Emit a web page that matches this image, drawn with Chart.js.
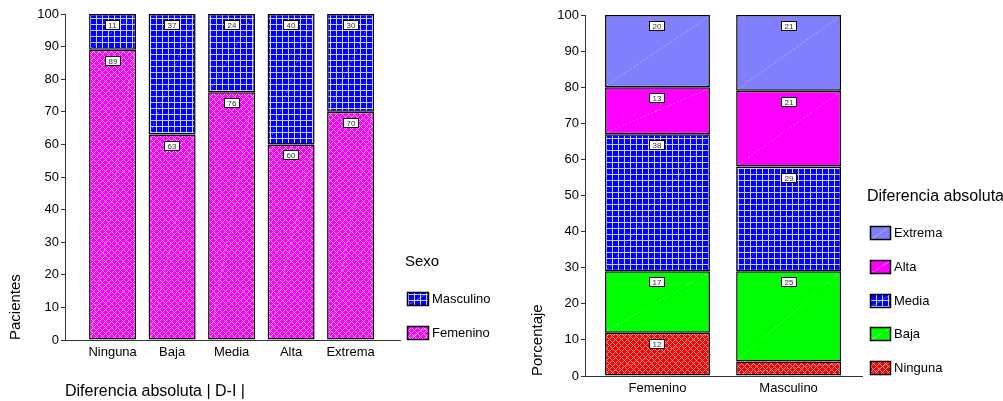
<!DOCTYPE html>
<html>
<head>
<meta charset="utf-8">
<script src="https://cdn.jsdelivr.net/npm/chart.js@4/dist/chart.umd.min.js"></script>
<style>
  html, body { margin: 0; padding: 0; background: #fff; }
  #wrap { position: relative; width: 1003px; height: 401px; overflow: hidden; }
  .pane { position: absolute; top: 0; height: 401px; }
  #paneLeft { left: 0; width: 510px; }
  #paneRight { left: 510px; width: 493px; }
  canvas { display: block; }
</style>
</head>
<body>
<div id="wrap">
  <div class="pane" id="paneLeft"><canvas id="chartSexo" width="510" height="401"></canvas></div>
  <div class="pane" id="paneRight"><canvas id="chartDif" width="493" height="401"></canvas></div>
</div>
<script>
// Grades of absolute difference |D-I|
const gradeLabels = ['Ninguna', 'Baja', 'Media', 'Alta', 'Extrema'];
// Patients (%) by sex within each grade
const femeninoPatients = [89, 63, 76, 60, 70];
const masculinoPatients = [11, 37, 24, 40, 30];

// Sex categories and the grade breakdown (%) inside each sex
const sexLabels = ['Femenino', 'Masculino'];
const ningunaPct = [12, 4];
const bajaPct = [17, 25];
const mediaPct = [38, 29];
const altaPct = [13, 21];
const extremaPct = [20, 21];

const FONT = '"Liberation Sans", Arial, Helvetica, sans-serif';

// Fill patterns
function diamondPattern(bg, fg) {
  const s = 6, c = document.createElement('canvas');
  c.width = s; c.height = s;
  const g = c.getContext('2d');
  g.fillStyle = bg; g.fillRect(0, 0, s, s);
  g.fillStyle = fg;
  for (let y = 0; y < s; y++) {
    for (let x = 0; x < s; x++) {
      if ((x + y) % s === 0 || (x - y + s) % s === 0) g.fillRect(x, y, 1, 1);
    }
  }
  return g.createPattern(c, 'repeat');
}
function gridPattern(bg, fg) {
  const s = 6, c = document.createElement('canvas');
  c.width = s; c.height = s;
  const g = c.getContext('2d');
  g.fillStyle = bg; g.fillRect(0, 0, s, s);
  g.fillStyle = fg;
  g.fillRect(0, 0, s, 1);
  g.fillRect(0, 0, 1, s);
  return g.createPattern(c, 'repeat');
}

const pinkCheck = diamondPattern('#ff00ff', '#ffa8ff');
const redCheck = diamondPattern('#ff0000', '#ffa0a0');
const blueGrid = gridPattern('#0000ff', '#d0d0ff');

const toPoints = arr => arr.map((v, i) => ({ x: i, y: v }));

// Faint diagonal streak across each segment
const diagonalStreaks = {
  id: 'diagonalStreaks',
  afterDatasetsDraw(chart) {
    const ctx = chart.ctx;
    ctx.save();
    ctx.strokeStyle = 'rgba(255,255,255,0.45)';
    ctx.lineWidth = 0.8;
    ctx.setLineDash([2, 2]);
    chart.data.datasets.forEach((ds, di) => {
      chart.getDatasetMeta(di).data.forEach(bar => {
        const p = bar.getProps(['x', 'y', 'base', 'width'], true);
        ctx.beginPath();
        ctx.moveTo(p.x - p.width / 2 + 2, p.base - 2);
        ctx.lineTo(p.x + p.width / 2 - 2, p.y + 2);
        ctx.stroke();
      });
    });
    ctx.restore();
  }
};

// Boxed value labels near the top of each segment
const segmentLabels = {
  id: 'segmentLabels',
  afterDatasetsDraw(chart) {
    const ctx = chart.ctx;
    ctx.save();
    ctx.font = '8px ' + FONT;
    ctx.textAlign = 'center';
    ctx.textBaseline = 'middle';
    chart.data.datasets.forEach((ds, di) => {
      chart.getDatasetMeta(di).data.forEach((bar, j) => {
        const v = ds.data[j].y;
        if (v < 5) return;
        const text = String(Math.round(v));
        const p = bar.getProps(['x', 'y'], true);
        const cy = Math.round(p.y + 11);
        const w = Math.round(ctx.measureText(text).width) + 7;
        const h = 10;
        const left = Math.round(p.x - w / 2);
        const top = cy - h / 2;
        ctx.fillStyle = '#fff';
        ctx.fillRect(left, top, w, h);
        ctx.strokeStyle = '#000';
        ctx.lineWidth = 1;
        ctx.strokeRect(left + 0.5, top + 0.5, w - 1, h - 1);
        ctx.fillStyle = '#333';
        ctx.fillText(text, left + w / 2, cy + 0.5);
      });
    });
    ctx.restore();
  }
};

// Side legend with title, entries listed top-down in reverse stacking order
function sideLegend(cfg) {
  return {
    id: 'sideLegend',
    afterDraw(chart) {
      const ctx = chart.ctx;
      const area = chart.chartArea;
      ctx.save();
      ctx.fillStyle = '#000';
      ctx.textBaseline = 'middle';
      ctx.textAlign = 'left';
      ctx.font = cfg.titleSize + 'px ' + FONT;
      ctx.fillText(cfg.title, area.right + cfg.titleDx, area.bottom - cfg.titleDy);
      ctx.font = '13px ' + FONT;
      const boxLeft = Math.round(area.right + cfg.boxDx);
      chart.data.datasets.forEach((ds, di) => {
        const top = Math.round(area.bottom - cfg.firstDy - di * cfg.step);
        ctx.fillStyle = ds.backgroundColor;
        ctx.fillRect(boxLeft, top, cfg.boxW, cfg.boxH);
        ctx.save();
        ctx.strokeStyle = 'rgba(255,255,255,0.45)';
        ctx.lineWidth = 0.8;
        ctx.beginPath();
        ctx.moveTo(boxLeft + 1, top + cfg.boxH - 1);
        ctx.lineTo(boxLeft + cfg.boxW - 1, top + 1);
        ctx.stroke();
        ctx.restore();
        ctx.strokeStyle = '#000';
        ctx.lineWidth = 1.5;
        ctx.strokeRect(boxLeft + 0.5, top + 0.5, cfg.boxW - 1, cfg.boxH - 1);
        ctx.fillStyle = '#000';
        ctx.fillText(ds.label, boxLeft + cfg.boxW + 3, top + cfg.boxH / 2 + 0.5);
      });
      ctx.restore();
    }
  };
}

function yAxis(title, width, titlePad) {
  return {
    stacked: true,
    min: 0,
    max: 100,
    afterFit: s => { s.width = width; },
    ticks: { stepSize: 10, color: '#000', padding: 2, font: { family: FONT, size: 13 } },
    grid: { drawOnChartArea: false, drawTicks: true, tickLength: 4, color: '#333' },
    border: { display: true, color: '#333', width: 1 },
    title: {
      display: true, text: title, align: 'start', color: '#000',
      font: { family: FONT, size: 15 }, padding: { top: titlePad, bottom: 0 }
    }
  };
}

function xAxis(labels, min, max, height, title) {
  const axis = {
    type: 'linear',
    stacked: true,
    offset: false,
    min: min,
    max: max,
    bounds: 'data',
    afterBuildTicks: s => { s.ticks = labels.map((_, i) => ({ value: i })); },
    afterFit: s => { s.height = height; },
    grid: { display: false, drawTicks: false, offset: false },
    border: { display: true, color: '#333', width: 1 },
    ticks: {
      autoSkip: false, maxRotation: 0, padding: 5, color: '#000',
      font: { family: FONT, size: 13 },
      callback: v => labels[v] ?? ''
    }
  };
  if (title) {
    axis.title = {
      display: true, text: title, align: 'start', color: '#000',
      font: { family: FONT, size: 16 }, padding: { top: 0, bottom: 0 }
    };
  }
  return axis;
}

const barDefaults = { categoryPercentage: 1, borderWidth: 1.5, borderColor: '#000', borderSkipped: false };

new Chart(document.getElementById('chartSexo'), {
  type: 'bar',
  data: {
    datasets: [
      { label: 'Femenino', data: toPoints(femeninoPatients), backgroundColor: pinkCheck },
      { label: 'Masculino', data: toPoints(masculinoPatients), backgroundColor: blueGrid }
    ]
  },
  options: {
    responsive: false,
    animation: false,
    devicePixelRatio: 1,
    layout: { padding: { left: 0, top: 14, right: 110, bottom: 0 } },
    datasets: { bar: Object.assign({ barPercentage: 0.79 }, barDefaults) },
    plugins: { legend: { display: false }, tooltip: { enabled: false } },
    scales: {
      x: xAxis(gradeLabels, -0.8, 4.83, 61, 'Diferencia absoluta | D-I |'),
      y: yAxis('Pacientes', 65, 7)
    }
  },
  plugins: [diagonalStreaks, segmentLabels, sideLegend({
    title: 'Sexo', titleSize: 15, titleDx: 5, titleDy: 78,
    boxDx: 7, firstDy: 14, step: 34, boxW: 22, boxH: 14
  })]
});

new Chart(document.getElementById('chartDif'), {
  type: 'bar',
  data: {
    datasets: [
      { label: 'Ninguna', data: toPoints(ningunaPct), backgroundColor: redCheck },
      { label: 'Baja', data: toPoints(bajaPct), backgroundColor: '#00ff00' },
      { label: 'Media', data: toPoints(mediaPct), backgroundColor: blueGrid },
      { label: 'Alta', data: toPoints(altaPct), backgroundColor: '#ff00ff' },
      { label: 'Extrema', data: toPoints(extremaPct), backgroundColor: '#8080ff' }
    ]
  },
  options: {
    responsive: false,
    animation: false,
    devicePixelRatio: 1,
    layout: { padding: { left: 0, top: 15, right: 141, bottom: 0 } },
    datasets: { bar: Object.assign({ barPercentage: 0.80 }, barDefaults) },
    plugins: { legend: { display: false }, tooltip: { enabled: false } },
    scales: {
      x: xAxis(sexLabels, -0.553, 1.56, 25, null),
      y: yAxis('Porcentaje', 75, 18.5)
    }
  },
  plugins: [diagonalStreaks, segmentLabels, sideLegend({
    title: 'Diferencia absoluta', titleSize: 16, titleDx: 5, titleDy: 179,
    boxDx: 8, firstDy: 15, step: 33.7, boxW: 21, boxH: 14
  })]
});
</script>
</body>
</html>
